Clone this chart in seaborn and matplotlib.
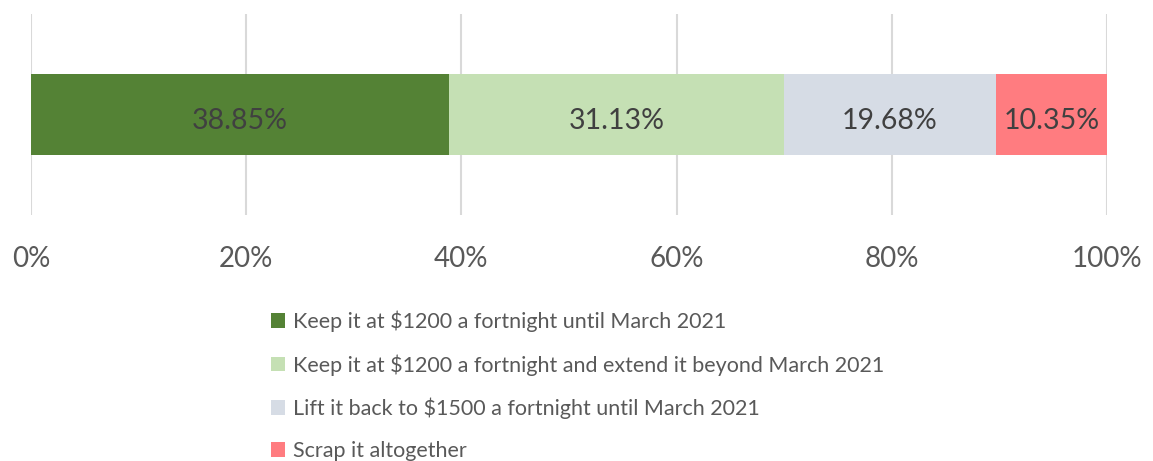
import matplotlib
matplotlib.use("Agg")
import matplotlib.pyplot as plt
import seaborn as sns
import numpy as np
from matplotlib.patches import Patch

categories = ["Keep it at $1200 a fortnight until March 2021",
              "Keep it at $1200 a fortnight and extend it beyond March 2021",
              "Lift it back to $1500 a fortnight until March 2021",
              "Scrap it altogether"]
values = [38.85, 31.13, 19.68, 10.35]
colors = ["#548235", "#C5E0B4", "#D6DCE5", "#FF7C80"]
tick_values = [0, 20, 40, 60, 80, 100]
tick_labels = ["0%", "20%", "40%", "60%", "80%", "100%"]

sns.set_style("white")
plt.rcParams["font.family"] = ["Lato", "DejaVu Sans"]

fig = plt.figure(figsize=(11.53, 4.61), dpi=100)
ax = fig.add_axes([31/1153, 1-215/461, (1107-31)/1153, 201/461])

cum = np.cumsum(values)
for i in reversed(range(len(values))):
    sns.barplot(x=[cum[i]], y=[""], orient="h", color=colors[i], width=0.4,
                saturation=1, linewidth=0, ax=ax, zorder=2)

for i, v in enumerate(values):
    ax.text(cum[i] - v/2, 0.03, f"{v:.2f}%", ha="center", va="center",
            fontsize=20.5, color="#404040", zorder=3)

ax.set_xlim(0, 100)
ax.set_ylim(0.5, -0.5)
ax.set_xticks(tick_values)
ax.set_xticklabels(tick_labels, fontsize=20, color="#595959")
ax.tick_params(axis="x", length=0, pad=22)
ax.set_yticks([])
ax.set_ylabel("")
ax.set_xlabel("")
ax.grid(axis="x", color="#D9D9D9", linewidth=1.5, zorder=0)
ax.set_axisbelow(True)
for s in ax.spines.values():
    s.set_visible(False)

handles = [Patch(facecolor=c, edgecolor="none") for c in colors]
fig.legend(handles, categories, loc="upper left", bbox_to_anchor=(262/1153, 1-302/461),
           frameon=False, fontsize=15.5, labelcolor="#595959", handlelength=0.65,
           handleheight=0.65, handletextpad=0.4, labelspacing=1.02, borderaxespad=0)

fig.savefig("out.png", dpi=100)
